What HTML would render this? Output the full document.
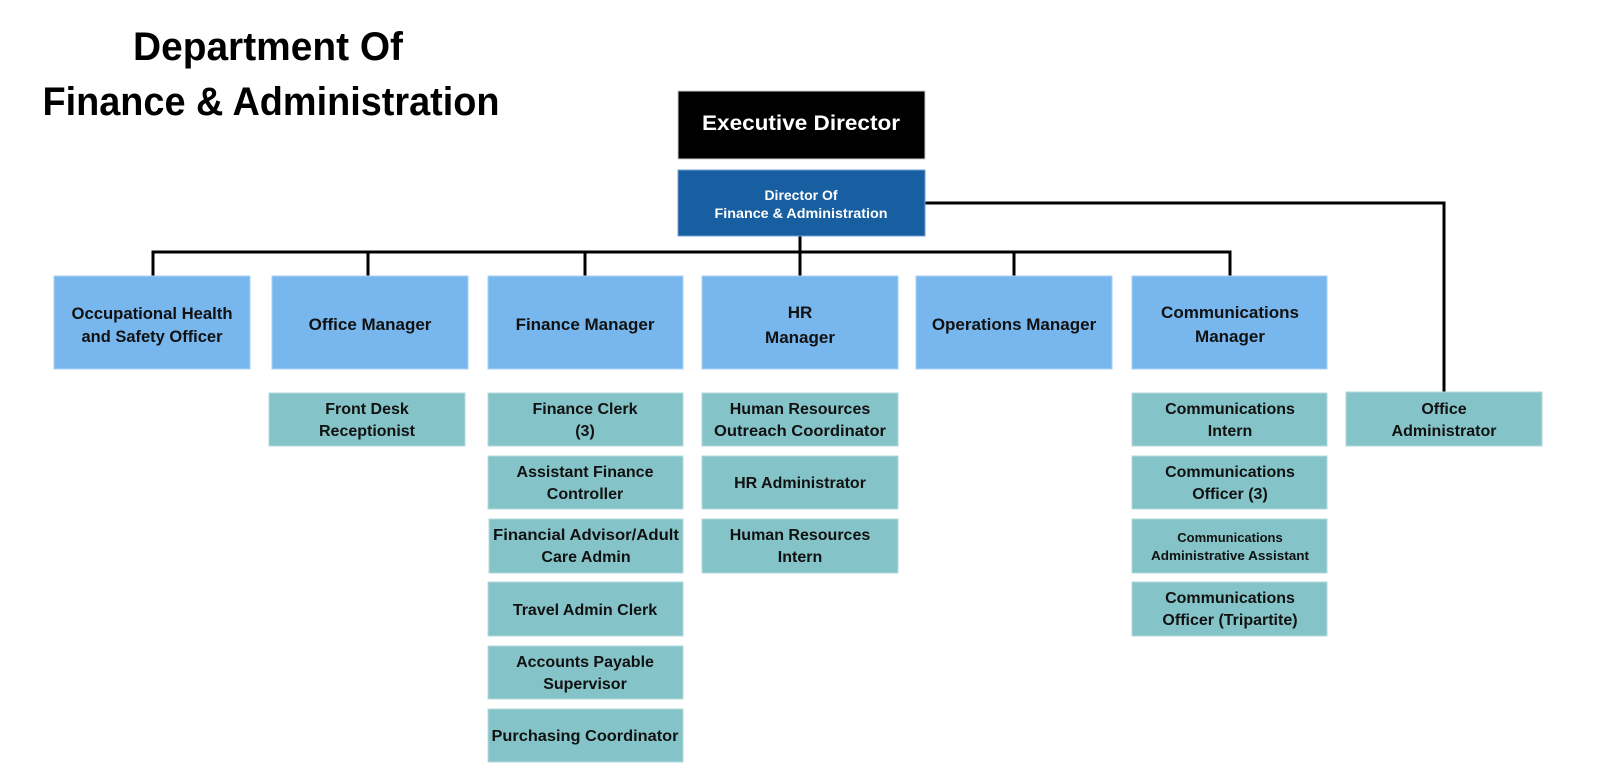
<!DOCTYPE html>
<html>
<head>
<meta charset="utf-8">
<style>
  html, body { margin: 0; padding: 0; background: #ffffff; }
  svg { display: block; }
  .t { font-family: "Liberation Sans", Arial, sans-serif; font-weight: bold; fill: #111111; text-anchor: middle; }
  .w { fill: #ffffff; }
  .mgr { fill: #77b7ee; stroke: #a9d2f5; stroke-width: 1; }
  .sub { fill: #84c3c8; stroke: #b3dadd; stroke-width: 1; }
  .ln { stroke: #000; stroke-width: 3; fill: none; stroke-linecap: square; stroke-linejoin: miter; }
</style>
</head>
<body>
<svg width="1600" height="782" viewBox="0 0 1600 782" xmlns="http://www.w3.org/2000/svg">
  <!-- Title -->
  <text class="t" x="268" y="60" font-size="40" textLength="270" lengthAdjust="spacingAndGlyphs" style="fill:#000">Department Of</text>
  <text class="t" x="271" y="115" font-size="40" textLength="457" lengthAdjust="spacingAndGlyphs" style="fill:#000">Finance &amp; Administration</text>

  <!-- Connectors -->
  <polyline class="ln" points="925,203 1444,203 1444,392"/>
  <line class="ln" x1="800" y1="236" x2="800" y2="252"/>
  <line class="ln" x1="153" y1="252" x2="1230" y2="252"/>
  <line class="ln" x1="153" y1="252" x2="153" y2="276"/>
  <line class="ln" x1="368" y1="252" x2="368" y2="276"/>
  <line class="ln" x1="585" y1="252" x2="585" y2="276"/>
  <line class="ln" x1="800" y1="252" x2="800" y2="276"/>
  <line class="ln" x1="1014" y1="252" x2="1014" y2="276"/>
  <line class="ln" x1="1230" y1="252" x2="1230" y2="276"/>

  <!-- Executive Director -->
  <rect x="678" y="91" width="247" height="68" fill="#000" stroke="#cccccc" stroke-width="1"/>
  <text class="t w" x="801" y="130" font-size="21" textLength="198" lengthAdjust="spacingAndGlyphs">Executive Director</text>

  <!-- Director -->
  <rect x="678" y="170" width="247" height="66" fill="#185fa2" stroke="#6f9fd0" stroke-width="1"/>
  <text class="t w" x="801" y="200" font-size="14">Director Of</text>
  <text class="t w" x="801" y="218" font-size="14" textLength="173" lengthAdjust="spacingAndGlyphs">Finance &amp; Administration</text>

  <!-- Managers -->
  <rect class="mgr" x="54" y="276" width="196" height="93"/>
  <text class="t" x="152" y="319" font-size="16.5" textLength="161" lengthAdjust="spacingAndGlyphs">Occupational Health</text>
  <text class="t" x="152" y="342" font-size="16.5" textLength="141" lengthAdjust="spacingAndGlyphs">and Safety Officer</text>

  <rect class="mgr" x="272" y="276" width="196" height="93"/>
  <text class="t" x="370" y="330" font-size="17">Office Manager</text>

  <rect class="mgr" x="488" y="276" width="195" height="93"/>
  <text class="t" x="585" y="330" font-size="17">Finance Manager</text>

  <rect class="mgr" x="702" y="276" width="196" height="93"/>
  <text class="t" x="800" y="318" font-size="17">HR</text>
  <text class="t" x="800" y="343" font-size="17">Manager</text>

  <rect class="mgr" x="916" y="276" width="196" height="93"/>
  <text class="t" x="1014" y="330" font-size="17">Operations Manager</text>

  <rect class="mgr" x="1132" y="276" width="195" height="93"/>
  <text class="t" x="1230" y="318" font-size="17">Communications</text>
  <text class="t" x="1230" y="342" font-size="17">Manager</text>

  <!-- Front desk -->
  <rect class="sub" x="269" y="393" width="196" height="53"/>
  <text class="t" x="367" y="414" font-size="16">Front Desk</text>
  <text class="t" x="367" y="436" font-size="16">Receptionist</text>

  <!-- Finance subs -->
  <rect class="sub" x="488" y="393" width="195" height="53"/>
  <text class="t" x="585" y="414" font-size="16">Finance Clerk</text>
  <text class="t" x="585" y="436" font-size="16">(3)</text>

  <rect class="sub" x="488" y="456" width="195" height="53"/>
  <text class="t" x="585" y="477" font-size="16">Assistant Finance</text>
  <text class="t" x="585" y="499" font-size="16">Controller</text>

  <rect class="sub" x="489" y="519" width="194" height="54"/>
  <text class="t" x="586" y="540" font-size="16" textLength="186" lengthAdjust="spacingAndGlyphs">Financial Advisor/Adult</text>
  <text class="t" x="586" y="562" font-size="16">Care Admin</text>

  <rect class="sub" x="488" y="582" width="195" height="54"/>
  <text class="t" x="585" y="615" font-size="16">Travel Admin Clerk</text>

  <rect class="sub" x="488" y="646" width="195" height="53"/>
  <text class="t" x="585" y="667" font-size="16">Accounts Payable</text>
  <text class="t" x="585" y="689" font-size="16">Supervisor</text>

  <rect class="sub" x="488" y="709" width="195" height="53"/>
  <text class="t" x="585" y="741" font-size="16" textLength="187" lengthAdjust="spacingAndGlyphs">Purchasing Coordinator</text>

  <!-- HR subs -->
  <rect class="sub" x="702" y="393" width="196" height="53"/>
  <text class="t" x="800" y="414" font-size="16">Human Resources</text>
  <text class="t" x="800" y="436" font-size="16" textLength="172" lengthAdjust="spacingAndGlyphs">Outreach Coordinator</text>

  <rect class="sub" x="702" y="456" width="196" height="53"/>
  <text class="t" x="800" y="488" font-size="16">HR Administrator</text>

  <rect class="sub" x="702" y="519" width="196" height="54"/>
  <text class="t" x="800" y="540" font-size="16">Human Resources</text>
  <text class="t" x="800" y="562" font-size="16">Intern</text>

  <!-- Comm subs -->
  <rect class="sub" x="1132" y="393" width="195" height="53"/>
  <text class="t" x="1230" y="414" font-size="16">Communications</text>
  <text class="t" x="1230" y="436" font-size="16">Intern</text>

  <rect class="sub" x="1132" y="456" width="195" height="53"/>
  <text class="t" x="1230" y="477" font-size="16">Communications</text>
  <text class="t" x="1230" y="499" font-size="16">Officer (3)</text>

  <rect class="sub" x="1132" y="519" width="195" height="54"/>
  <text class="t" x="1230" y="542" font-size="13">Communications</text>
  <text class="t" x="1230" y="560" font-size="13" textLength="158" lengthAdjust="spacingAndGlyphs">Administrative Assistant</text>

  <rect class="sub" x="1132" y="582" width="195" height="54"/>
  <text class="t" x="1230" y="603" font-size="16">Communications</text>
  <text class="t" x="1230" y="625" font-size="16">Officer (Tripartite)</text>

  <!-- Office Administrator -->
  <rect class="sub" x="1346" y="392" width="196" height="54"/>
  <text class="t" x="1444" y="414" font-size="16">Office</text>
  <text class="t" x="1444" y="436" font-size="16">Administrator</text>
</svg>
</body>
</html>
